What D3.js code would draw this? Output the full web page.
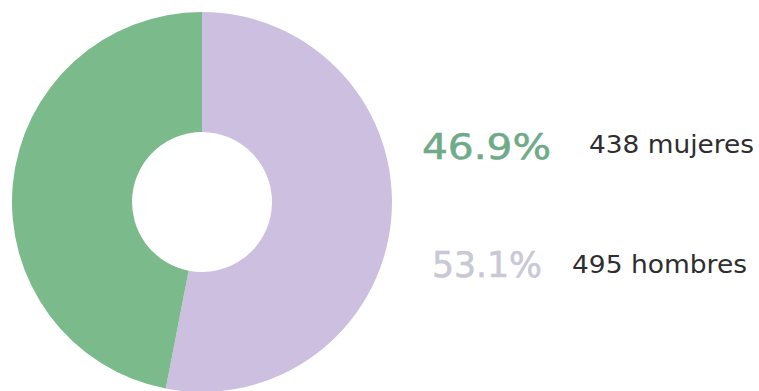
<!DOCTYPE html>
<html lang="es">
<head>
<meta charset="utf-8">
<script src="https://cdn.jsdelivr.net/npm/d3@7"></script>
<style>
  html, body { margin: 0; padding: 0; background: #ffffff; }
  svg { display: block; }
</style>
</head>
<body>
<svg id="chart" width="759" height="391"></svg>
<script>
// Participantes por sexo
const groups = ["mujeres", "hombres"];
const counts = [438, 495];
const sliceColors = ["#7aba8b", "#cdbfdf"];
const pctColors = ["#6faa89", "#c9c8d5"];

const total = d3.sum(counts);
const fmtPct = d3.format(".1%");

const svg = d3.select("#chart");
const cx = 202, cy = 202, rOuter = 190, rInner = 70;

// Hombres runs clockwise from 12 o'clock; mujeres closes the ring.
const order = [1, 0];
const pie = d3.pie().sort(null).value(i => counts[i]);
const arc = d3.arc().innerRadius(rInner).outerRadius(rOuter);

svg.append("g")
  .attr("transform", `translate(${cx},${cy})`)
  .selectAll("path")
  .data(pie(order))
  .join("path")
  .attr("d", arc)
  .attr("fill", d => sliceColors[d.data]);

// Legend: percentage followed by count and group name
const legend = [
  { i: 0, px: 422, py: 159, pw: 129, tx: 589, ty: 153, tw: 165 },
  { i: 1, px: 432, py: 277, pw: 110, tx: 572, ty: 273, tw: 175 }
];

const g = svg.append("g").attr("font-family", "'DejaVu Sans', sans-serif");

g.selectAll("text.pct")
  .data(legend)
  .join("text")
  .attr("class", "pct")
  .attr("x", d => d.px)
  .attr("y", d => d.py)
  .attr("font-size", 36)
  .attr("textLength", d => d.pw)
  .attr("lengthAdjust", "spacingAndGlyphs")
  .attr("fill", d => pctColors[d.i])
  .attr("stroke", d => pctColors[d.i])
  .attr("stroke-width", 0.6)
  .text(d => fmtPct(counts[d.i] / total));

g.selectAll("text.lbl")
  .data(legend)
  .join("text")
  .attr("class", "lbl")
  .attr("x", d => d.tx)
  .attr("y", d => d.ty)
  .attr("font-size", 24)
  .attr("textLength", d => d.tw)
  .attr("lengthAdjust", "spacingAndGlyphs")
  .attr("fill", "#2e2e2e")
  .text(d => `${counts[d.i]} ${groups[d.i]}`);
</script>
</body>
</html>
